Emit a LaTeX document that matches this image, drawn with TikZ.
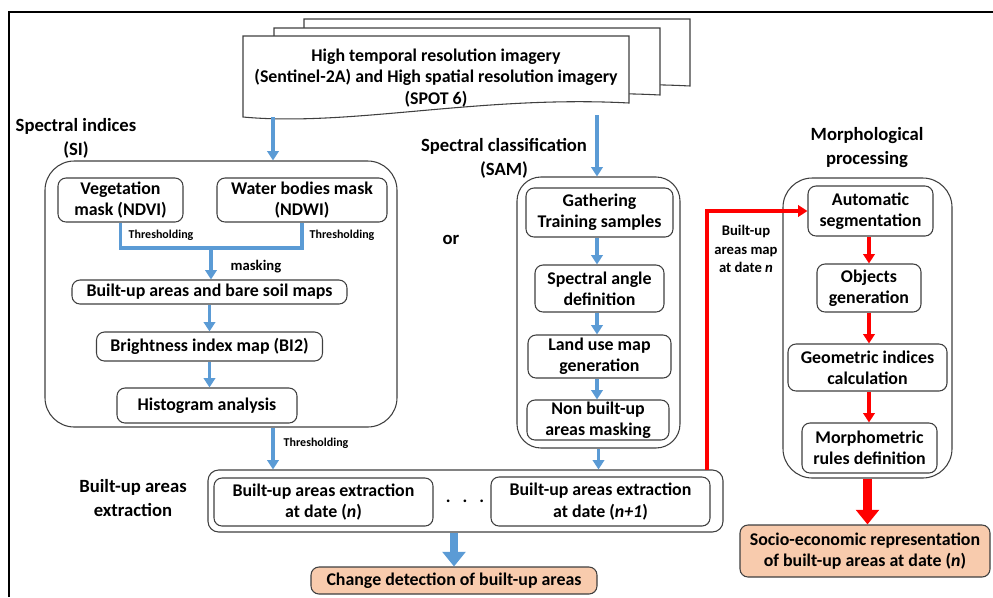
\documentclass[tikz,border=0pt]{standalone}
\usepackage{fontspec}
\setmainfont{Carlito}
\usetikzlibrary{arrows.meta}
\definecolor{flowblue}{HTML}{5B9BD5}
\definecolor{peach}{HTML}{F8CBAD}
\definecolor{boxline}{HTML}{3F3F3F}
\tikzset{
  every node/.style={font=\bfseries\fontsize{13.4}{16}\selectfont, align=center},
  sz/.style 2 args={minimum width=#1*0.75pt, minimum height=#2*0.75pt},
  inbox/.style={draw=boxline, line width=0.8pt, rounded corners=6pt, inner sep=0pt},
  groupbox/.style={draw=boxline, line width=0.8pt, inner sep=0pt},
  resultbox/.style={inbox, fill=peach},
  grouplabel/.style={font=\bfseries\fontsize{14}{18}\selectfont},
  tinylabel/.style={font=\bfseries\fontsize{9}{10}\selectfont},
  smalllabel/.style={font=\bfseries\fontsize{11}{13.8}\selectfont},
  flow/.style={draw=flowblue, line width=2.8pt, -{Triangle[width=8.5pt,length=7pt]}},
  redflow/.style={draw=red, line width=2.8pt, -{Triangle[width=8.5pt,length=7pt]}},
  bigflow/.style={line width=6.5pt, -{Triangle[width=17pt,length=11pt]}},
  docpage/.style={draw=boxline, line width=0.8pt, fill=white},
}
\begin{document}
\begin{tikzpicture}[x=0.75pt, y=-0.75pt]
      \useasboundingbox (0,0) rectangle (993,597);
      \draw [line width=1.2pt] (9,597) -- (9,12) -- (993,12);

      % stack of imagery pages
      \foreach \dx/\dy in {61/-17, 31/-8, 0/0}
        \draw [docpage, shift={(\dx,\dy)}] (629,103) .. controls (480,95) and (350,127) .. (243,117)
          -- (243,36) -- (629,36) -- cycle;
      \node (doc) at (436,78) {High temporal resolution imagery\\(Sentinel-2A) and High spatial resolution imagery\\(SPOT 6)};
      \coordinate (docL) at (273,117);
      \coordinate (docR) at (597,115);

      \node [grouplabel] (silabel) at (76,138) {Spectral indices\\(SI)};
      \node [groupbox, rounded corners=22pt, sz={352}{266}] (si) at (221,294) {};
      \node [inbox, sz={125}{44}] (veg) at (120.5,200) {Vegetation\\mask (NDVI)};
      \node [inbox, sz={170}{44}] (water) at (302,200) {Water bodies mask\\(NDWI)};
      \coordinate (join) at (211,248);
      \node [inbox, sz={275}{24}] (bus) at (209.5,292) {Built-up areas and bare soil maps};
      \node [inbox, sz={226}{29}] (bi) at (209.5,346.5) {Brightness index map (BI2)};
      \node [inbox, sz={180}{35}] (hist) at (207,405.5) {Histogram analysis};

      \draw [flowblue, line width=2.8pt] (veg.south) |- (join) -| (water.south);
      \node [tinylabel, anchor=west] (th1) at (124,235) {Thresholding};
      \node [tinylabel, anchor=west] (th2) at (305,235) {Thresholding};
      \draw [flow] (join) -- (join |- bus.north);
      \node [smalllabel, anchor=west] (mask) at (226,267) {masking};
      \draw [flow] (bus.south) -- (bi.north);
      \draw [flow] (bi.south) -- (bi.south |- hist.north);
      \draw [flow] (docL) -- (docL |- si.north);

      \node [grouplabel] (samlabel) at (504,158) {Spectral classification\\(SAM)};
      \node [grouplabel] (or) at (451,240) {or};
      \node [groupbox, rounded corners=18pt, sz={163}{271}] (sam) at (598.5,312.5) {};
      \node [inbox, sz={147}{49}] (gather) at (599.5,212.5) {Gathering\\Training samples};
      \node [inbox, sz={129}{47}] (angle) at (599.5,288.5) {Spectral angle\\definition};
      \node [inbox, sz={143}{43}] (landuse) at (599.5,356.5) {Land use map\\generation};
      \node [inbox, sz={142}{40}] (nonbuilt) at (598,420) {Non built-up\\areas masking};
      \draw [flow] (docR) -- (docR |- sam.north);
      \draw [flow] (gather.south -| docR) -- (docR |- angle.north);
      \draw [flow] (angle.south -| docR) -- (docR |- landuse.north);
      \draw [flow] (landuse.south -| docR) -- (docR |- nonbuilt.north);

      \node [grouplabel] (morphlabel) at (867,148) {Morphological\\processing};
      \node [groupbox, rounded corners=22pt, sz={169}{300}] (morph) at (867.5,328) {};
      \node [inbox, sz={125}{50}] (seg) at (870.5,211) {Automatic\\segmentation};
      \node [inbox, sz={104}{48}] (objects) at (869,288) {Objects\\generation};
      \node [inbox, sz={159}{47}] (geom) at (867.5,367.5) {Geometric indices\\calculation};
      \node [inbox, sz={135}{50}] (rules) at (869.5,448) {Morphometric\\rules definition};
      \draw [redflow] (seg.south -| objects) -- (objects.north);
      \draw [redflow] (objects.south) -- (objects.south |- geom.north);
      \draw [redflow] (geom.south -| objects) -- (objects.south |- rules.north);

      \node [grouplabel] (extlabel) at (133,498) {Built-up areas\\extraction};
      \node [groupbox, rounded corners=8pt, sz={515}{62}] (extract) at (465.5,501) {};
      \node [inbox, sz={219}{48}] (ext1) at (323.5,502) {Built-up areas extraction\\at date (\textit{n})};
      \node [inbox, sz={219}{49}] (ext2) at (600.5,501.5) {Built-up areas extraction\\at date (\textit{n+1})};
      \node (dots) at (465,501) {.\hspace{9pt}.\hspace{9pt}.};
      \draw [flow] (docL |- si.south) -- (docL |- extract.north);
      \node [tinylabel, anchor=west] (th3) at (279,443) {Thresholding};
      \draw [flow] (sam.south) -- (sam.south |- extract.north);

      \node [resultbox, sz={286}{27}] (change) at (454,580.5) {Change detection of built-up areas};
      \draw [bigflow, flowblue] (change.north |- extract.south) -- (change.north);

      \coordinate (redstart) at (707,470);
      \draw [redflow, line width=2.6pt] (redstart) |- (seg.west);
      \node [smalllabel] (maplabel) at (746,249) {Built-up\\areas map\\at date \textit{n}};

      \node [resultbox, sz={250}{52}] (socio) at (865,551) {Socio-economic representation\\of built-up areas at date (\textit{n})};
      \draw [bigflow, red] (morph.south) -- (morph.south |- socio.north);
    \end{tikzpicture}
\end{document}
